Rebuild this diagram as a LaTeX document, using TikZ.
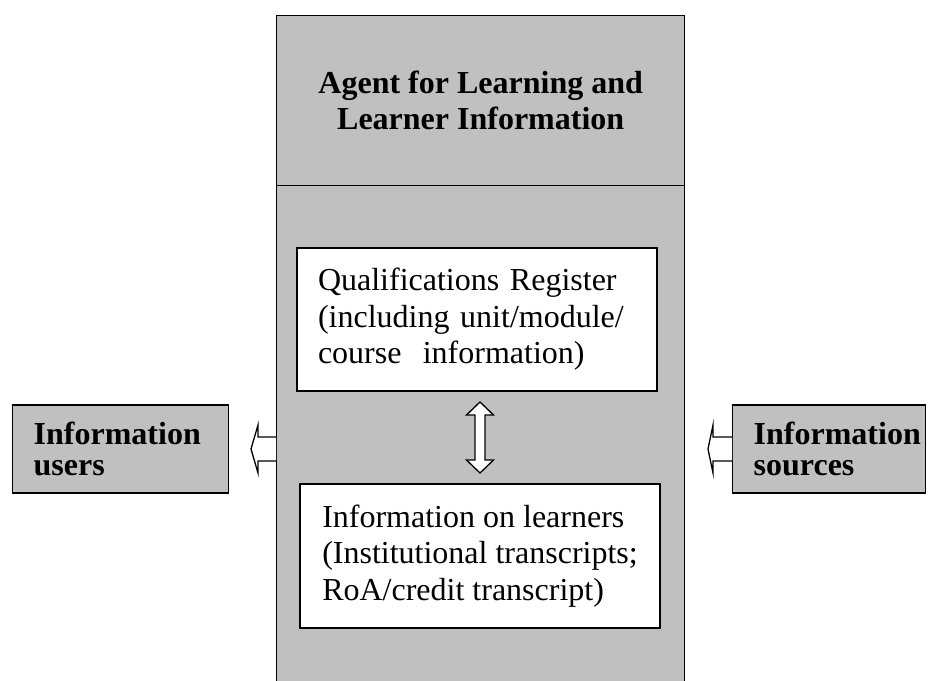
\documentclass[tikz,border=0pt]{standalone}
\usepackage{fontspec}
\setmainfont{Liberation Serif}
\usetikzlibrary{calc}
\definecolor{boxgray}{HTML}{C0C0C0}
\tikzset{
  graybox/.style={draw=black, line width=1.4pt, fill=boxgray, rectangle, inner sep=0pt},
  whitebox/.style={draw=black, line width=1.4pt, fill=white, rectangle, inner ysep=0pt, inner xsep=21pt, align=left, font=\fontsize{32}{36.5}\selectfont},
  sidebox/.style={draw=black, line width=1.4pt, fill=boxgray, rectangle, inner ysep=0pt, inner xsep=21pt, align=left, font=\fontsize{32}{31}\selectfont\bfseries},
  blockarrow/.style={draw=black, line width=1.3pt, fill=white, line join=miter}
}
\begin{document}
\begin{tikzpicture}[x=1pt,y=-1pt]
\useasboundingbox (0,0) rectangle (939,680);
\clip (0,0) rectangle (939,680);
\fill[white] (0,0) rectangle (939,680);
% outer agent box
\node[graybox, anchor=north west, minimum width=408pt, minimum height=520pt] (lower) at (276,185) {};
\node[graybox, anchor=north west, minimum width=408pt, minimum height=170pt, align=center, font=\fontsize{32}{36}\selectfont\bfseries] (top) at (276,15) {Agent for Learning and\\Learner Information};
% inner boxes
\node[whitebox, text width=318pt, minimum width=360pt, minimum height=143pt] (qual) at (477,319.5) {Qualifications Register\\(including unit/module/\\course\ \ information)};
\node[whitebox, inner xsep=0pt, minimum width=360pt, minimum height=144pt] (info) at (480,556) {Information on learners\\(Institutional transcripts;\\RoA/credit transcript)};
% side boxes
\node[sidebox, text width=174pt, anchor=west, minimum width=216pt, minimum height=88pt] (users) at (12,449) {Information\\users};
\node[sidebox, text width=151pt, anchor=west, minimum width=193pt, minimum height=88pt] (sources) at (732,449) {Information\\sources};
% arrows
\coordinate (L0) at (lower.west |- users.east);
\draw[blockarrow] ($(L0)+(0,-12)$) -- ++(-18,0) -- ++(0,-12) -- ++(-7,24) -- ++(7,24) -- ++(0,-12) -- ($(L0)+(0,12)$);
\coordinate (R0) at (sources.west);
\draw[blockarrow] ($(R0)+(0,-12)$) -- ++(-19,0) -- ++(0,-12) -- ++(-5,24) -- ++(5,24) -- ++(0,-12) -- ($(R0)+(0,12)$);
\coordinate (V0) at ($(qual.south)!0.5!(info.north)$);
\draw[blockarrow] ($(V0)+(1.5,-35.5)$) -- ++(13.5,13) -- ++(-8.5,0) -- ++(0,45) -- ++(8.5,0) -- ++(-13.5,13) -- ++(-13.5,-13) -- ++(8.5,0) -- ++(0,-45) -- ++(-8.5,0) -- cycle;
\end{tikzpicture}
\end{document}
